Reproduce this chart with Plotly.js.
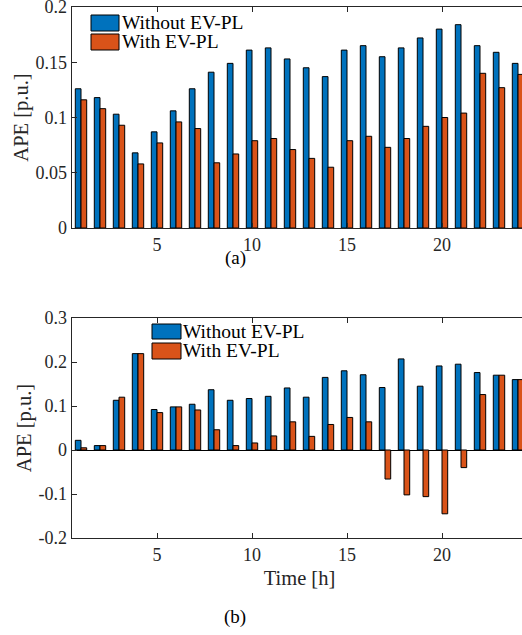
<!DOCTYPE html>
<html>
<head>
<meta charset="utf-8">
<script src="https://cdn.plot.ly/plotly-3.0.1.min.js"></script>
<style>
html,body{margin:0;padding:0;overflow:hidden;background:#fff;}
#chart{width:530px;height:635px;}
</style>
</head>
<body>
<div id="chart"></div>
<script>
// ---- data ----
const hours = [1,2,3,4,5,6,7,8,9,10,11,12,13,14,15,16,17,18,19,20,21,22,23,24];
const seriesNames = ["Without EV-PL", "With EV-PL"];
// (a)
const apeA_without = [0.126,0.118,0.103,0.068,0.087,0.106,0.126,0.141,0.149,0.161,0.163,0.153,0.145,0.137,0.161,0.165,0.155,0.163,0.172,0.180,0.184,0.165,0.159,0.149];
const apeA_with    = [0.116,0.108,0.093,0.058,0.077,0.096,0.090,0.059,0.067,0.079,0.081,0.071,0.063,0.055,0.079,0.083,0.073,0.081,0.092,0.100,0.104,0.140,0.127,0.139];
// (b)
const apeB_without = [0.022,0.010,0.113,0.219,0.092,0.098,0.104,0.137,0.113,0.117,0.122,0.141,0.120,0.165,0.180,0.171,0.142,0.207,0.145,0.191,0.195,0.176,0.170,0.160];
const apeB_with    = [0.005,0.010,0.120,0.219,0.085,0.098,0.091,0.046,0.010,0.016,0.032,0.064,0.031,0.058,0.074,0.064,-0.066,-0.102,-0.106,-0.145,-0.040,0.126,0.170,0.160];
const xTicks = [5,10,15,20];
const yTicksA = [0,0.05,0.1,0.15,0.2];
const yTickTextA = ["0","0.05","0.1","0.15","0.2"];
const yTicksB = [-0.2,-0.1,0,0.1,0.2,0.3];
const yTickTextB = ["-0.2","-0.1","0","0.1","0.2","0.3"];

const BLUE = "#0072BD", ORANGE = "#D95319";
const FONT = "Liberation Serif, Times New Roman, serif";
const W = 530, H = 635;
const px = v => v / W;
const py = v => 1 - v / H;

function bar(x, y, name, color, xa, ya) {
  return {type: "bar", x: x, y: y, name: name, xaxis: xa, yaxis: ya,
    marker: {color: color, line: {color: "#000", width: 1}}, showlegend: false};
}
const traces = [
  bar(hours, apeA_without, seriesNames[0], BLUE, "x", "y"),
  bar(hours, apeA_with, seriesNames[1], ORANGE, "x", "y"),
  bar(hours, apeB_without, seriesNames[0], BLUE, "x2", "y2"),
  bar(hours, apeB_with, seriesNames[1], ORANGE, "x2", "y2")
];

const axCommon = {showgrid: false, showline: true, linecolor: "#262626", linewidth: 1,
  ticks: "inside", ticklen: 5, tickcolor: "#262626", mirror: "ticks",
  ticklabeloverflow: "allow",
  tickfont: {family: FONT, size: 18, color: "#262626"}};

const xBase = Object.assign({}, axCommon, {range: [0.5, 24.5], tickvals: xTicks, zeroline: false,
  domain: [px(71.5), px(527.5)]});
const titleFont = {family: FONT, size: 20.5, color: "#262626"};
const legFont = {family: FONT, size: 19.5, color: "#000"};

const layout = {
  width: W, height: H,
  margin: {l: 0, r: 0, t: 0, b: 0},
  paper_bgcolor: "#fff", plot_bgcolor: "#fff",
  barmode: "group", bargap: 0.4, bargroupgap: 0,
  font: {family: FONT, color: "#262626"},
  showlegend: false,
  xaxis: Object.assign({}, xBase, {anchor: "y"}),
  yaxis: Object.assign({}, axCommon, {anchor: "x", range: [0, 0.2], tickvals: yTicksA, ticktext: yTickTextA,
    zeroline: false, domain: [py(228), py(7)],
    title: {text: "APE [p.u.]", font: titleFont, standoff: 1}}),
  xaxis2: Object.assign({}, xBase, {anchor: "y2",
    title: {text: "Time [h]", font: titleFont, standoff: 7}}),
  yaxis2: Object.assign({}, axCommon, {anchor: "x2", range: [-0.2, 0.3], tickvals: yTicksB, ticktext: yTickTextB,
    zeroline: true, zerolinecolor: "#000", zerolinewidth: 1, domain: [py(538), py(318)],
    title: {text: "APE [p.u.]", font: titleFont, standoff: 1}}),
  shapes: [
    {type: "rect", xref: "paper", yref: "paper", x0: px(91), x1: px(119), y0: py(31), y1: py(15), fillcolor: BLUE, line: {color: "#000", width: 1}},
    {type: "rect", xref: "paper", yref: "paper", x0: px(91), x1: px(119), y0: py(50), y1: py(34), fillcolor: ORANGE, line: {color: "#000", width: 1}},
    {type: "rect", xref: "paper", yref: "paper", x0: px(152), x1: px(181), y0: py(339), y1: py(324), fillcolor: BLUE, line: {color: "#000", width: 1}},
    {type: "rect", xref: "paper", yref: "paper", x0: px(152), x1: px(181), y0: py(359), y1: py(343), fillcolor: ORANGE, line: {color: "#000", width: 1}}
  ],
  annotations: [
    {xref: "paper", yref: "paper", x: px(120), y: py(23), xanchor: "left", yanchor: "middle", showarrow: false, text: seriesNames[0], font: legFont},
    {xref: "paper", yref: "paper", x: px(120), y: py(42), xanchor: "left", yanchor: "middle", showarrow: false, text: seriesNames[1], font: legFont},
    {xref: "paper", yref: "paper", x: px(181), y: py(331), xanchor: "left", yanchor: "middle", showarrow: false, text: seriesNames[0], font: legFont},
    {xref: "paper", yref: "paper", x: px(181), y: py(351), xanchor: "left", yanchor: "middle", showarrow: false, text: seriesNames[1], font: legFont},
    {xref: "paper", yref: "paper", x: px(235), y: py(258), xanchor: "center", yanchor: "middle", showarrow: false, text: "(a)", font: {family: FONT, size: 19, color: "#000"}},
    {xref: "paper", yref: "paper", x: px(235), y: py(617), xanchor: "center", yanchor: "middle", showarrow: false, text: "(b)", font: {family: FONT, size: 19, color: "#000"}}
  ]
};

Plotly.newPlot("chart", traces, layout, {displayModeBar: false, staticPlot: true});
</script>
</body>
</html>
